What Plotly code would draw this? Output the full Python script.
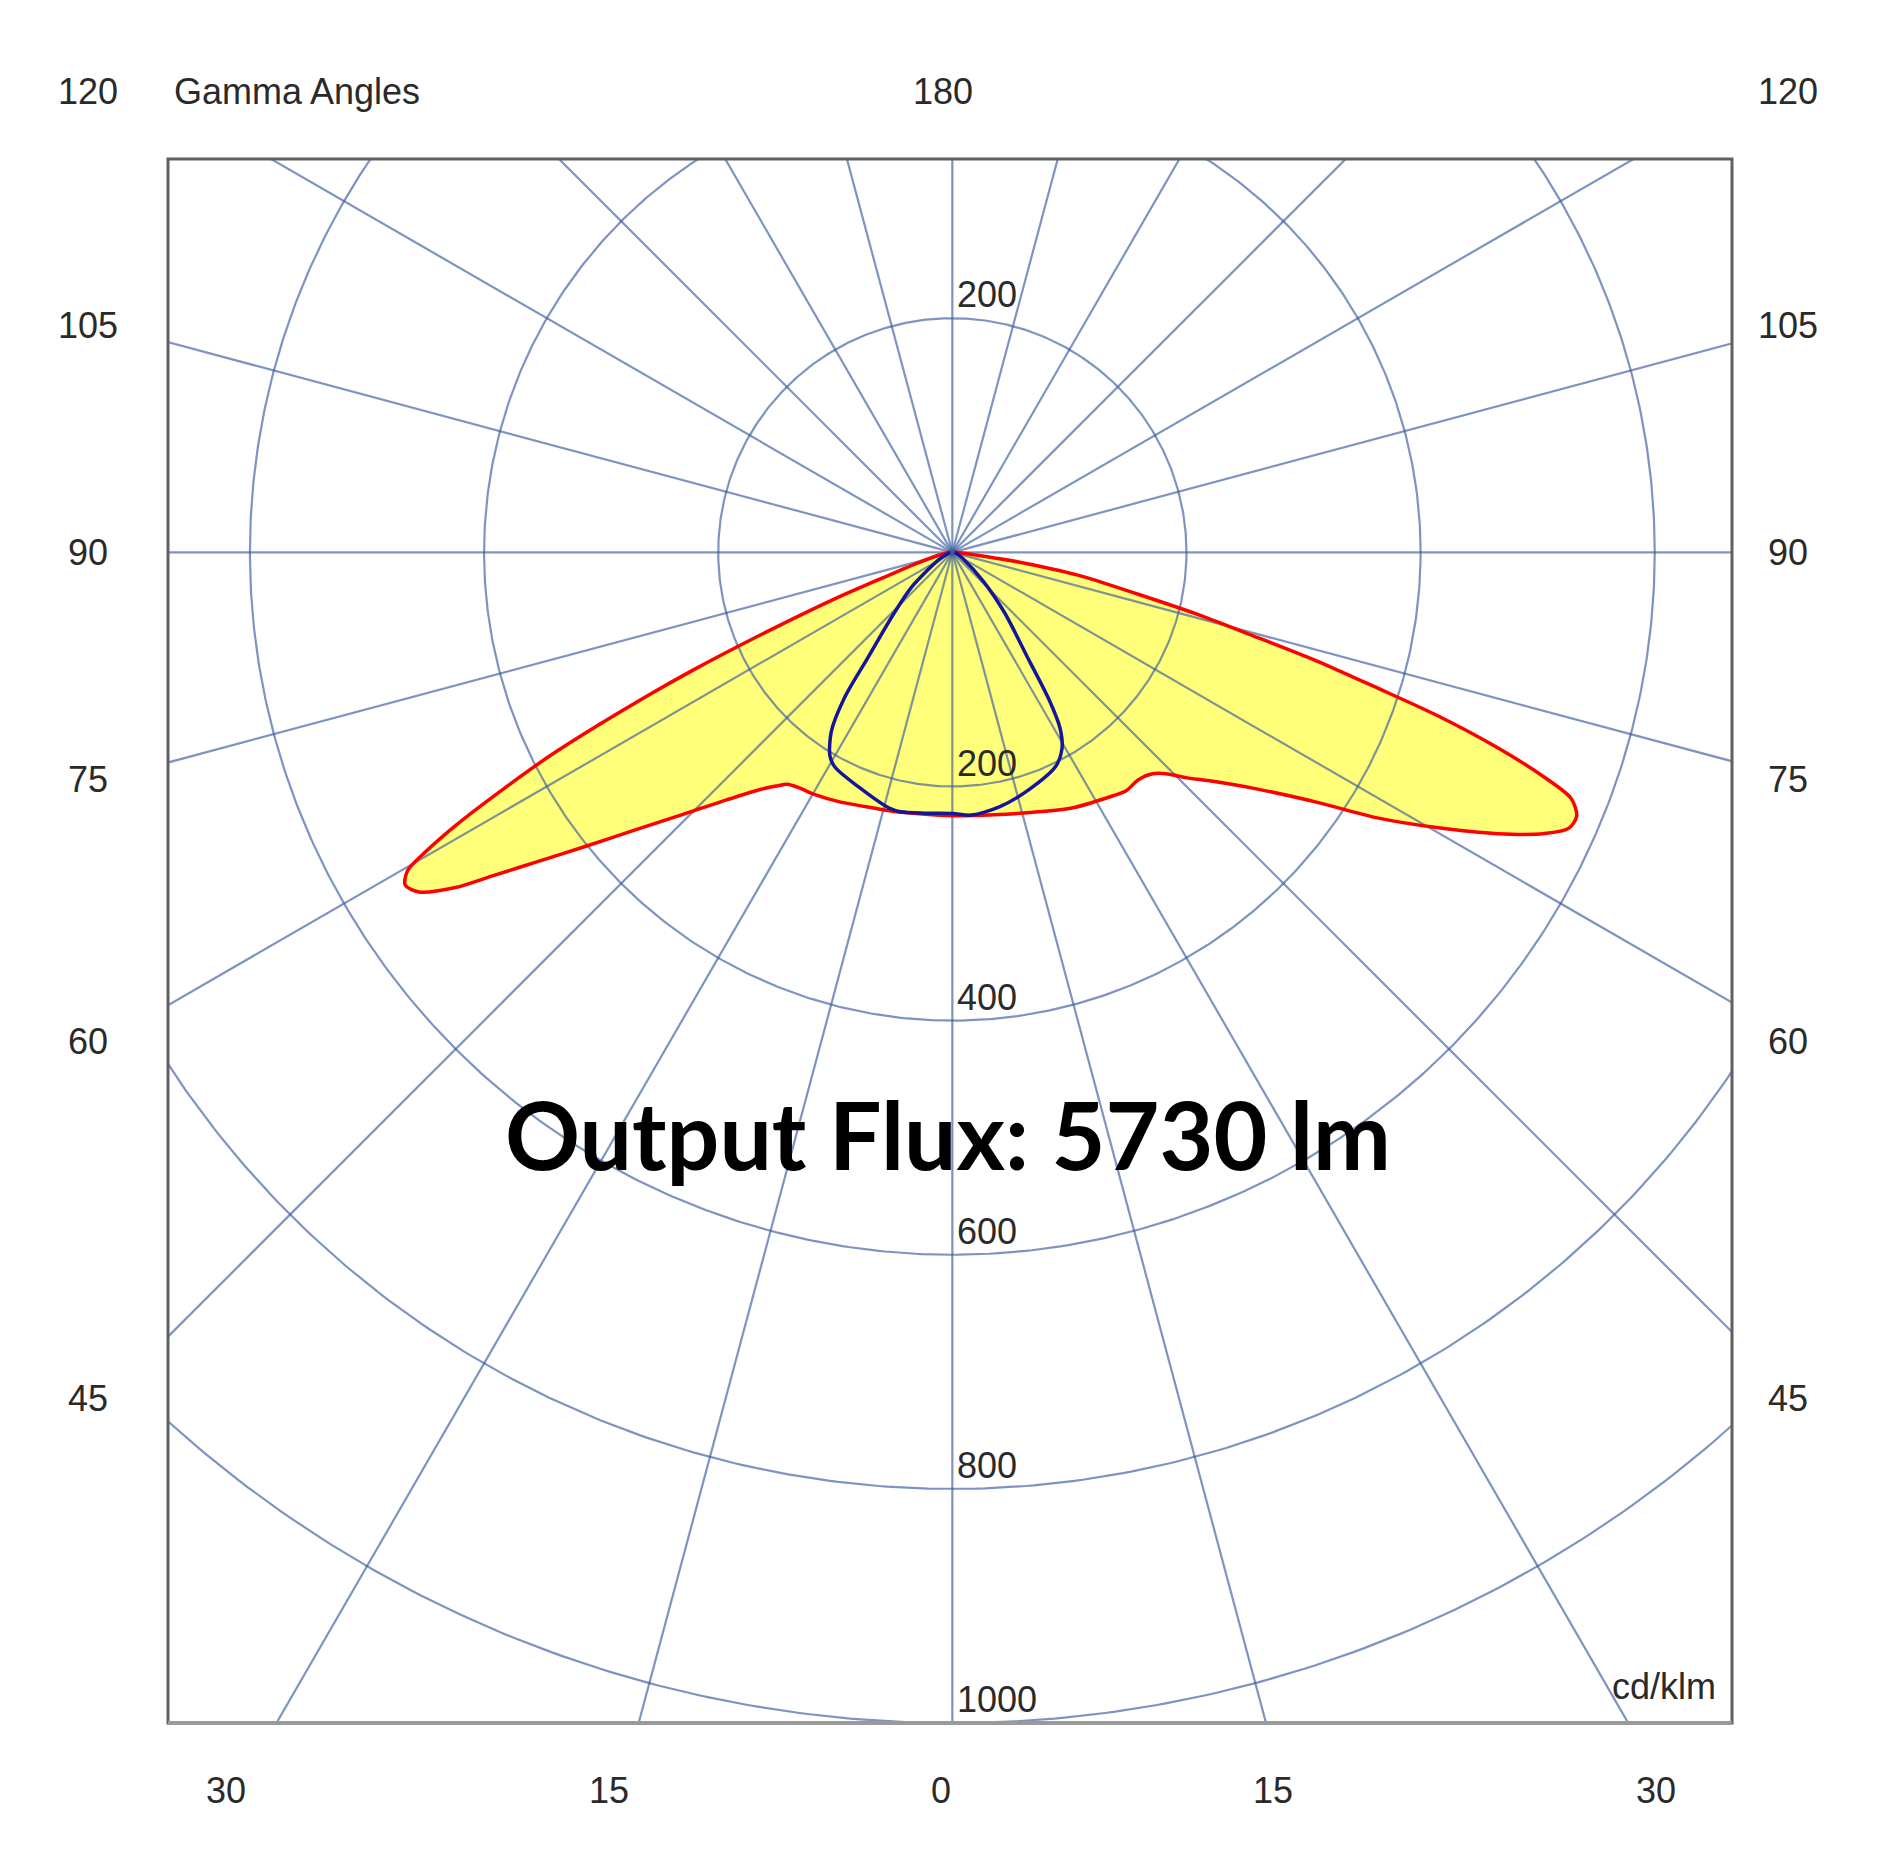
"""Photometric polar diagram (cd/klm) drawn on a square cartesian frame."""

import numpy as np
import plotly.graph_objects as go

# C0 / C180 plane (red, filled) - gamma in degrees, intensity in cd/klm
GAMMA_C180 = [0, 6.5, 13, 19.5, 24.5, 29.7, 33, 35.4, 37, 38.9, 41.4, 43, 45.8, 48.8,
              51.2, 53.2, 54.9, 56, 57.5, 58.7, 59.7, 60.4, 61.2, 62.2, 63.2, 64.0,
              64.8, 65.6, 66.4, 67.3, 68.5, 70, 73, 78, 85, 90]
I_C180 = [225, 225, 227, 230, 234, 238, 240, 243, 250, 260, 278, 292, 321, 360,
          400, 440, 481, 512, 540, 547, 539, 517, 484, 434, 384, 336,
          289, 242, 196, 151, 106, 61, 30, 12, 4, 2]

GAMMA_C0 = [0, 9.1, 16.7, 25, 32.4, 36.1, 39.2, 42.1, 44.2, 46, 48.4, 52.2, 55.6, 58,
            60.4, 62.7, 64.6, 65.9, 67.1, 68.3, 69.2, 70.3, 71.4, 72.3, 73.4, 74.4,
            75.8, 77.3, 79.7, 81.7, 83, 86, 90]
I_C0 = [225, 227, 232, 241, 248, 252, 251, 255, 264, 277, 294, 330, 378, 428,
        476, 524, 560, 577, 579, 569, 541, 494, 437, 381, 325, 271,
        216, 162, 109, 57, 26, 8, 2]

# C90 / C270 plane (blue)
GAMMA_C270 = [0, 6, 11.3, 13.9, 21.6, 28.7, 31, 34, 36.6, 38.6, 43.6, 49.5, 60, 75, 90]
I_C270 = [223, 224, 226, 225, 216, 209, 203, 185, 154, 117, 73, 46, 15, 4, 2]
GAMMA_C90 = [0, 4.1, 10.6, 17.9, 25.8, 29.2, 31.5, 33.2, 35.4, 40.9, 47, 60, 75, 90]
I_C90 = [223, 225, 221, 213, 203, 192, 176, 152, 113, 68, 36, 10, 4, 2]

RINGS = [200, 400, 600, 800, 1000]
RING_LABELS = ["200", "400", "600", "800", "1000"]
SIDE_ANGLES = [45, 60, 75, 90, 105]
BOTTOM_ANGLES = [30, 15, 0, 15, 30]

GRID = "rgba(55, 90, 160, 0.65)"
TEXT = "#2a2a2a"
FONT = "Liberation Sans, Arial, sans-serif"

X_RANGE = [-670, 666]
Y_RANGE = [-1000, 336]


def to_xy(gamma, inten, side):
    g = np.radians(np.asarray(gamma, dtype=float))
    r = np.asarray(inten, dtype=float)
    return side * r * np.sin(g), -r * np.cos(g)


def px(x):
    return (x - X_RANGE[0]) / (X_RANGE[1] - X_RANGE[0])


def py(y):
    return (y - Y_RANGE[0]) / (Y_RANGE[1] - Y_RANGE[0])


xl, yl = to_xy(GAMMA_C180, I_C180, -1)
xr, yr = to_xy(GAMMA_C0, I_C0, 1)
red_x = np.concatenate([xl[::-1], xr[1:]])
red_y = np.concatenate([yl[::-1], yr[1:]])

bl_x, bl_y = to_xy(GAMMA_C270, I_C270, -1)
br_x, br_y = to_xy(GAMMA_C90, I_C90, 1)
blue_x = np.concatenate([bl_x[::-1], br_x[1:]])
blue_y = np.concatenate([bl_y[::-1], br_y[1:]])

fig = go.Figure()

# yellow fill under the grid
fig.add_trace(go.Scatter(
    x=red_x, y=red_y, mode="lines", fill="toself", fillcolor="#ffff7a",
    line=dict(width=0, shape="spline", smoothing=0.8), hoverinfo="skip",
))

# rings
t = np.linspace(0, 2 * np.pi, 721)
ring_x, ring_y = [], []
for r in RINGS:
    ring_x += list(r * np.cos(t)) + [None]
    ring_y += list(r * np.sin(t)) + [None]
fig.add_trace(go.Scatter(x=ring_x, y=ring_y, mode="lines",
                         line=dict(color=GRID, width=2.2), hoverinfo="skip"))

# radial lines every 15 degrees
spoke_x, spoke_y = [], []
for a in range(0, 360, 15):
    spoke_x += [0, 2000 * np.sin(np.radians(a)), None]
    spoke_y += [0, -2000 * np.cos(np.radians(a)), None]
fig.add_trace(go.Scatter(x=spoke_x, y=spoke_y, mode="lines",
                         line=dict(color=GRID, width=2.2), hoverinfo="skip"))

fig.add_trace(go.Scatter(x=red_x, y=red_y, mode="lines",
                         line=dict(color="#ff0000", width=3.5, shape="spline", smoothing=0.8),
                         hoverinfo="skip"))
fig.add_trace(go.Scatter(x=blue_x, y=blue_y, mode="lines",
                         line=dict(color="#15159a", width=3.5, shape="spline", smoothing=0.8),
                         hoverinfo="skip"))

ann = []


def label(text, x, y, xanchor="center", size=36):
    ann.append(dict(text=text, x=px(x), y=py(y), xref="paper", yref="paper",
                    showarrow=False, xanchor=xanchor, yanchor="middle",
                    font=dict(family=FONT, size=size, color=TEXT)))


# ring values along the vertical axis
label("200", 2, 220, xanchor="left")
for r, txt in zip(RINGS, RING_LABELS):
    label(txt, 2, -r + 20, xanchor="left")

# gamma labels on the sides
for g in SIDE_ANGLES:
    y = -723 / np.tan(np.radians(g)) if g != 90 else 0
    label(str(g), -738, y)
    label(str(g), 714, y)

# gamma labels at the bottom
for i, g in enumerate(BOTTOM_ANGLES):
    sign = -1 if i < 2 else 1
    label(str(g), sign * 1058 * np.tan(np.radians(g)) - 10, -1058)

# top row
label("180", -8, 394)
label("120", -738, 394)
label("120", 714, 394)
label("Gamma Angles", -667, 394, xanchor="left")
label("cd/klm", 654, -969, xanchor="right")

ann.append(dict(text="<b>Output Flux: 5730 lm</b>", x=px(-4), y=py(-497),
                xref="paper", yref="paper", showarrow=False,
                xanchor="center", yanchor="middle",
                font=dict(family="Lato, sans-serif", size=93, color="#000000")))

fig.update_xaxes(range=X_RANGE, visible=False, fixedrange=True)
fig.update_yaxes(range=Y_RANGE, visible=False, fixedrange=True)
fig.update_layout(
    width=1877,
    height=1855,
    margin=dict(l=160, r=153, t=151, b=140),
    paper_bgcolor="white",
    plot_bgcolor="white",
    showlegend=False,
    annotations=ann,
    shapes=[
        dict(type="rect", xref="paper", yref="paper", x0=0, x1=1, y0=0, y1=1,
             line=dict(color="#606060", width=3)),
        dict(type="line", xref="paper", yref="paper", x0=0, x1=1, y0=0, y1=0,
             line=dict(color="#9a9a9a", width=4)),
    ],
)

fig.write_html("out.html")
